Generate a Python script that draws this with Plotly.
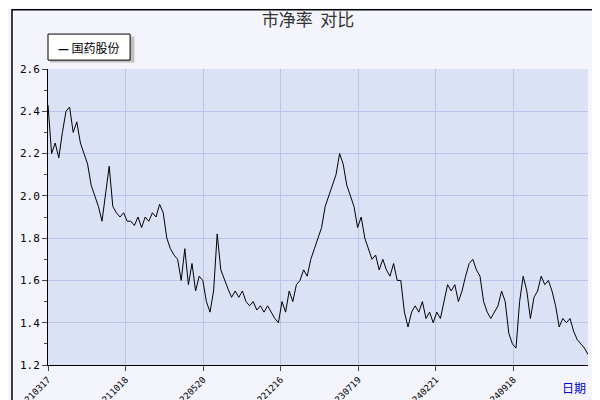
import plotly.graph_objects as go

values = [2.43,2.2,2.25,2.18,2.3,2.4,2.42,2.3,2.35,2.25,2.2,2.15,2.05,2.0,1.95,1.88,2.02,2.14,1.95,1.92,
1.9,1.92,1.88,1.88,1.86,1.9,1.85,1.9,1.88,1.92,1.9,1.96,1.92,1.8,1.75,1.72,1.7,1.6,1.75,1.58,
1.68,1.55,1.62,1.6,1.5,1.45,1.55,1.82,1.65,1.6,1.56,1.52,1.55,1.52,1.55,1.5,1.48,1.5,1.46,1.48,
1.45,1.48,1.45,1.42,1.4,1.5,1.45,1.55,1.5,1.58,1.6,1.65,1.62,1.7,1.75,1.8,1.85,1.95,2.0,2.05,
2.1,2.2,2.15,2.05,2.0,1.95,1.85,1.9,1.8,1.75,1.7,1.72,1.65,1.7,1.65,1.62,1.68,1.6,1.6,1.45,
1.38,1.45,1.48,1.45,1.5,1.42,1.45,1.4,1.45,1.42,1.5,1.58,1.55,1.58,1.5,1.55,1.62,1.68,1.7,1.65,
1.62,1.5,1.45,1.42,1.45,1.48,1.55,1.5,1.35,1.3,1.28,1.5,1.62,1.55,1.42,1.52,1.55,1.62,1.58,1.6,
1.55,1.48,1.38,1.42,1.4,1.42,1.36,1.32,1.3,1.28,1.25]
tick_labels = ["20210317","20211018","20220520","20221216","20230719","20240221","20240918","20250423"]
series_name = "国药股份"

n = len(values)
xs = list(range(n))
step = (n - 1) * 77.3 / 538
tickvals = [k * step for k in range(len(tick_labels))]

fig = go.Figure(go.Scatter(x=xs, y=values, mode="lines", name=series_name,
                           line=dict(color="black", width=1)))
fig.update_layout(
    width=600, height=400, margin=dict(l=40, r=20, t=61, b=43, autoexpand=False),
    paper_bgcolor="#f3f4fc", plot_bgcolor="#dce2f6",
    title=dict(text="市净率  对比", x=0.5, y=0.985, xanchor="center", yanchor="top",
               font=dict(size=17, color="#333", family="Noto Sans CJK SC")),
    font=dict(family="DejaVu Sans Mono", size=11, color="black"),
    showlegend=False,
    shapes=[dict(type="rect", xref="paper", yref="paper", x0=-0.0667, y0=-0.15, x1=1.0333, y1=1.2,
                 line=dict(color="black", width=1.5)),
            dict(type="rect", xref="paper", yref="paper", x0=0.0037, y0=1.022, x1=0.16, y1=1.11,
                 fillcolor="#c0c0c0", line=dict(width=0)),
            dict(type="rect", xref="paper", yref="paper", x0=0.0, y0=1.03, x1=0.152, y1=1.118,
                 fillcolor="white", line=dict(color="black", width=1))],
    annotations=[dict(text="日期", xref="paper", yref="paper", x=1.0, y=-0.11, showarrow=False,
                      xanchor="right", font=dict(color="#0000cc", size=12, family="Noto Sans CJK SC")),
                 dict(text="<b>—</b> " + series_name, xref="paper", yref="paper", x=0.076, y=1.074,
                      showarrow=False, xanchor="center", yanchor="middle",
                      font=dict(size=12, family="Noto Sans CJK SC", color="black"))],
)
fig.update_xaxes(range=[0, n - 1], tickvals=tickvals, ticktext=tick_labels, tickangle=-45,
                 tickfont=dict(size=9), showgrid=True, gridcolor="#b9c6ea", ticks="outside",
                 ticklen=5, showline=True, linecolor="black", zeroline=False, automargin=False)
fig.update_yaxes(range=[1.2, 2.6], dtick=0.2, tickformat=".1f", showgrid=True, gridcolor="#b9c6ea",
                 ticks="outside", ticklen=5, showline=True, linecolor="black", zeroline=False,
                 automargin=False, minor=dict(dtick=0.1, ticks="outside", ticklen=3, showgrid=False))
fig.write_html("out.html")
